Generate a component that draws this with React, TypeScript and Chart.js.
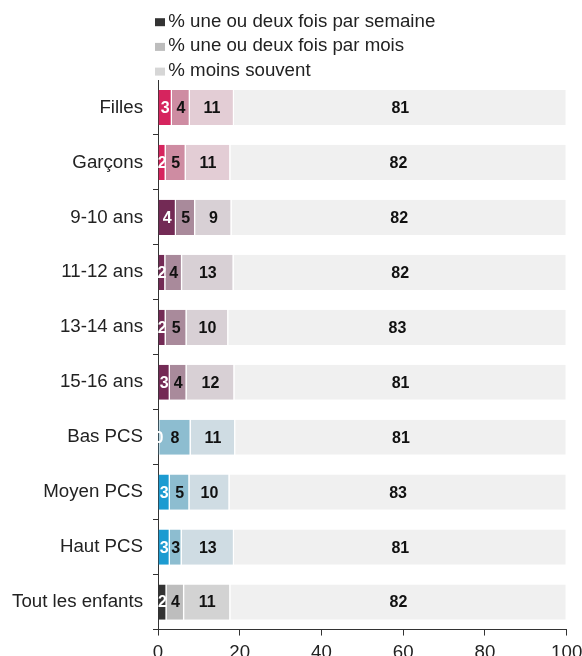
import { useEffect, useRef } from "react";
import { Chart, registerables } from "chart.js";

Chart.register(...registerables);

// ---- data ----
const categories = [
  "Filles",
  "Garçons",
  "9-10 ans",
  "11-12 ans",
  "13-14 ans",
  "15-16 ans",
  "Bas PCS",
  "Moyen PCS",
  "Haut PCS",
  "Tout les enfants",
];
const seriesLabels = [
  "% une ou deux fois par semaine",
  "% une ou deux fois par mois",
  "% moins souvent",
  "% jamais",
];
const weekly = [3.4, 1.9, 4.4, 1.8, 1.9, 2.9, 0.3, 2.9, 2.9, 2.1];
const monthly = [4.4, 4.9, 4.7, 4.1, 5.1, 4.1, 7.7, 4.8, 2.9, 4.3];
const lessOften = [10.8, 10.9, 8.9, 12.6, 10.2, 11.7, 10.9, 9.8, 12.8, 11.3];
const never = [81.4, 82.3, 82.0, 81.5, 82.8, 81.3, 81.1, 82.5, 81.4, 82.3];
const xTicks = [0, 20, 40, 60, 80, 100];

// ---- styles ----
const FONT = '"Liberation Sans", Arial, sans-serif';
const darkColors = [
  "#D6245E", "#D6245E",
  "#732A55", "#732A55", "#732A55", "#732A55",
  "#1C9BD1", "#1C9BD1", "#1C9BD1",
  "#333333",
];
const midColors = [
  "#CE8CA2", "#CE8CA2",
  "#A98A9B", "#A98A9B", "#A98A9B", "#A98A9B",
  "#8DBDD0", "#8DBDD0", "#8DBDD0",
  "#BDBDBD",
];
const lightColors = [
  "#E3CDD5", "#E3CDD5",
  "#D8D0D5", "#D8D0D5", "#D8D0D5", "#D8D0D5",
  "#CFDCE3", "#CFDCE3", "#CFDCE3",
  "#D3D3D3",
];
const restColor = "#F0F0F0";
const legendBoxColors = ["#333333", "#BDBDBD", "#D6D6D6"];

const legendPlugin = {
  id: "customLegend",
  afterDraw(chart: any) {
    const ctx = chart.ctx;
    const left = chart.chartArea.left;
    ctx.save();
    chart.data.datasets.slice(0, 3).forEach((ds: any, i: number) => {
      const base = 26.7 + i * 24.7;
      ctx.fillStyle = legendBoxColors[i];
      ctx.fillRect(left - 3, base - 8.5, 10, 8);
      ctx.fillStyle = "#222222";
      ctx.font = `18.7px ${FONT}`;
      ctx.textAlign = "left";
      ctx.textBaseline = "alphabetic";
      ctx.fillText(ds.label, left + 10.3, base);
    });
    ctx.restore();
  },
};

const valueLabelPlugin = {
  id: "valueLabels",
  afterDatasetsDraw(chart: any) {
    const ctx = chart.ctx;
    ctx.save();
    ctx.font = `bold 16px ${FONT}`;
    ctx.textAlign = "center";
    ctx.textBaseline = "middle";
    chart.data.datasets.forEach((ds: any, di: number) => {
      const meta = chart.getDatasetMeta(di);
      meta.data.forEach((bar: any, i: number) => {
        const v = ds.data[i] as number;
        const { x, y, base } = bar.getProps(["x", "y", "base"], true);
        ctx.fillStyle = di === 0 ? "#FFFFFF" : "#111111";
        ctx.fillText(String(Math.round(v)), (x + base) / 2, y + 1);
      });
    });
    ctx.restore();
  },
};

export default function App() {
  const canvasRef = useRef<HTMLCanvasElement | null>(null);

  useEffect(() => {
    if (!canvasRef.current) return;
    const seriesData = [weekly, monthly, lessOften, never];
    const colorSets = [darkColors, midColors, lightColors, categories.map(() => restColor)];
    const chart = new Chart(canvasRef.current, {
      type: "bar",
      data: {
        labels: categories,
        datasets: seriesData.map((d, i) => ({
          label: seriesLabels[i],
          data: d,
          backgroundColor: colorSets[i],
          borderColor: "#FFFFFF",
          borderWidth: { top: 0, bottom: 0, left: 0, right: 1.2 },
          borderSkipped: "start",
          barPercentage: 0.64,
          categoryPercentage: 1,
        })),
      },
      options: {
        indexAxis: "y",
        animation: false,
        responsive: false,
        devicePixelRatio: 1,
        layout: { padding: { top: 80, right: 15.3, left: 0, bottom: 0 } },
        plugins: {
          legend: { display: false },
          tooltip: { enabled: false },
        },
        scales: {
          x: {
            stacked: true,
            min: 0,
            max: 100,
            afterBuildTicks: (scale: any) => {
              scale.ticks = xTicks.map((v) => ({ value: v }));
            },
            afterFit: (scale: any) => {
              scale.paddingRight = 0;
              scale.paddingLeft = 0;
            },
            grid: {
              drawOnChartArea: false,
              drawTicks: true,
              tickLength: 6,
              color: "#333333",
            },
            border: { display: true, color: "#333333", width: 1 },
            ticks: {
              font: { family: FONT, size: 18.7 },
              color: "#222222",
              padding: 6,
              maxRotation: 0,
            },
          },
          y: {
            stacked: true,
            afterFit: (scale: any) => {
              scale.width = 158;
            },
            grid: {
              drawOnChartArea: false,
              drawTicks: true,
              tickLength: 5,
              offset: true,
              color: (c: any) => (c.index === 0 ? "rgba(0,0,0,0)" : "#333333"),
            },
            border: { display: true, color: "#333333", width: 1 },
            ticks: {
              font: { family: FONT, size: 18.7 },
              color: "#222222",
              padding: 10,
            },
          },
        },
      },
      plugins: [legendPlugin, valueLabelPlugin],
    } as any);
    return () => chart.destroy();
  }, []);

  return (
    <div
      style={{
        position: "fixed",
        top: 0,
        left: 0,
        width: 582,
        height: 656,
        overflow: "hidden",
        background: "#FFFFFF",
      }}
    >
      <canvas ref={canvasRef} width={582} height={670} style={{ display: "block" }} />
    </div>
  );
}
